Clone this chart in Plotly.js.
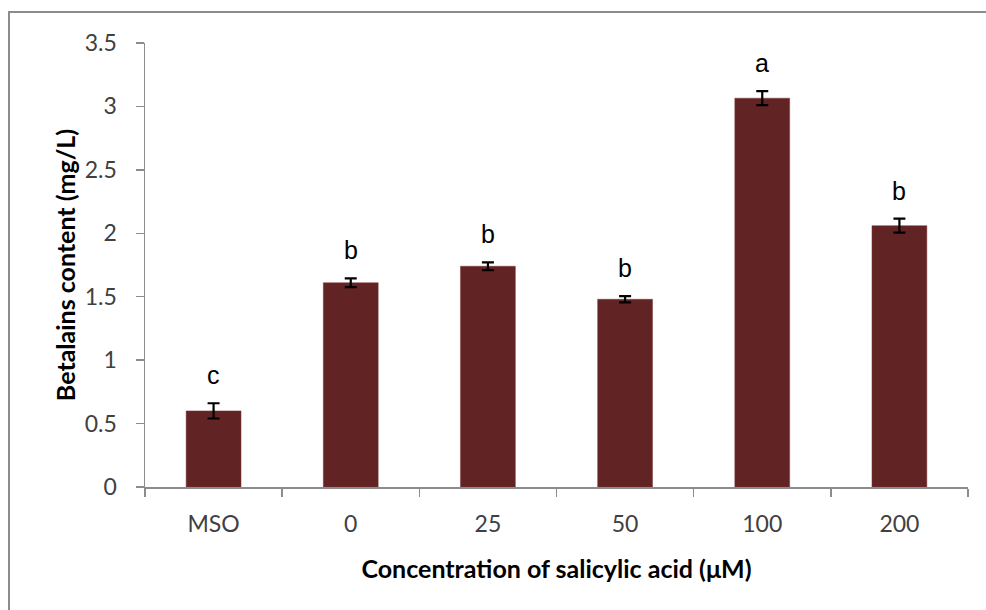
<!DOCTYPE html>
<html>
<head>
<meta charset="utf-8">
<script src="https://cdn.plot.ly/plotly-3.0.1.min.js"></script>
<style>
  html, body { margin: 0; padding: 0; background: #fff; }
  #frame { position: absolute; left: 8px; top: 11px; width: 978px; height: 599px;
           border-top: 2px solid #8c8c8c; border-left: 2px solid #8c8c8c; box-sizing: border-box; }
  #chart { position: absolute; left: 0; top: 0; width: 986px; height: 610px; }
</style>
</head>
<body>
<div id="frame"></div>
<div id="chart"></div>
<script>
const categories = ["MSO", "0", "25", "50", "100", "200"];
const betalains = [0.60, 1.61, 1.74, 1.48, 3.065, 2.06];
const errors = [0.06, 0.035, 0.03, 0.025, 0.055, 0.055];
const letters = ["c", "b", "b", "b", "a", "b"];

const trace = {
  type: "bar",
  x: categories,
  y: betalains,
  marker: { color: "#622324", line: { color: "#7a3a3a", width: 0.5 } },
  error_y: { type: "data", array: errors, visible: true, color: "#000", thickness: 2.2, width: 6 },
  hoverinfo: "none"
};

const annotations = categories.map((c, i) => ({
  x: i, y: betalains[i] + errors[i], xref: "x", yref: "y",
  text: letters[i], showarrow: false, yanchor: "bottom", yshift: 12,
  font: { family: "Liberation Sans, Arial, sans-serif", size: 25, color: "#000" }
}));

const layout = {
  width: 986, height: 610,
  margin: { l: 145, r: 18, t: 43, b: 123 },
  paper_bgcolor: "rgba(0,0,0,0)",
  plot_bgcolor: "rgba(0,0,0,0)",
  showlegend: false,
  bargap: 0.6,
  font: { family: "Lato, sans-serif", color: "#404040" },
  xaxis: {
    type: "category",
    categoryorder: "array", categoryarray: categories,
    range: [-0.5, categories.length - 0.5],
    showline: true, linecolor: "#8c8c8c", linewidth: 1.5,
    ticks: "outside", tickson: "boundaries", ticklen: 8, tickcolor: "#8c8c8c", tickwidth: 1.5,
    tickfont: { family: "Lato, sans-serif", size: 23, color: "#404040" },
    tickangle: 0,
    ticklabelstandoff: 16,
    showgrid: false, zeroline: false,
    title: { text: "<b>Concentration of salicylic acid (μM)</b>", font: { family: "Lato, sans-serif", size: 25, color: "#000" }, standoff: 24 }
  },
  yaxis: {
    range: [0, 3.5], dtick: 0.5, tick0: 0,
    showline: true, linecolor: "#8c8c8c", linewidth: 1.5,
    ticks: "outside", ticklen: 8, tickcolor: "#8c8c8c", tickwidth: 1.5,
    tickfont: { family: "Lato, sans-serif", size: 23, color: "#404040" },
    ticklabelstandoff: 14,
    showgrid: false, zeroline: false,
    title: { text: "<b>Betalains content (mg/L)</b>", font: { family: "Lato, sans-serif", size: 25, color: "#000" }, standoff: 2 }
  },
  annotations: annotations
};

Plotly.newPlot("chart", [trace], layout, { displayModeBar: false, staticPlot: true });
</script>
</body>
</html>
